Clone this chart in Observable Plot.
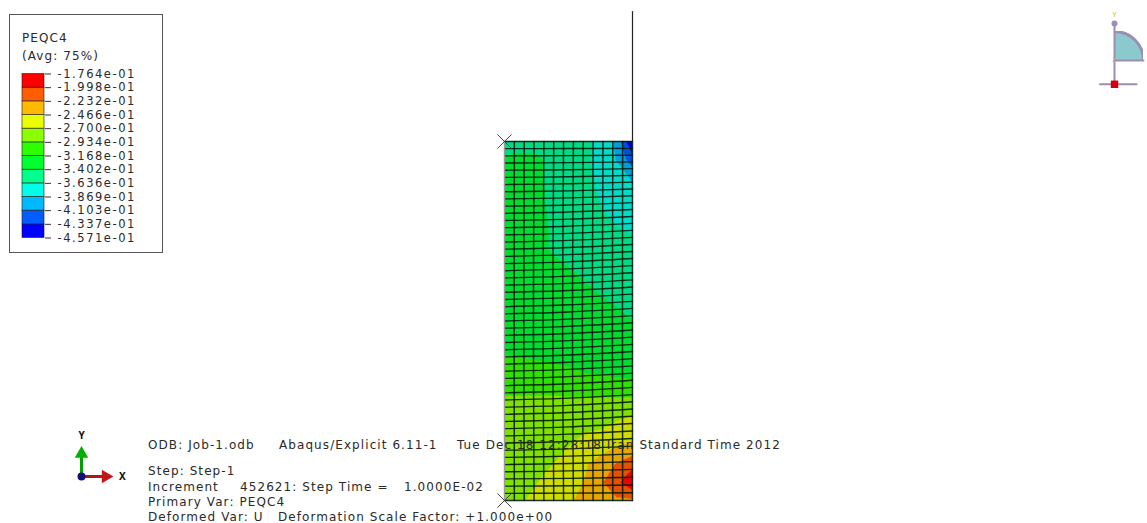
<!DOCTYPE html>
<html>
<head>
<meta charset="utf-8">
<script src="https://cdn.jsdelivr.net/npm/d3@7"></script>
<script src="https://cdn.jsdelivr.net/npm/@observablehq/plot@0.6"></script>
<style>
  html, body { margin: 0; padding: 0; background: #fff; }
  #stage { position: relative; width: 1147px; height: 523px; overflow: hidden;
           font-family: "DejaVu Sans", Verdana, sans-serif; color: #2a2a2a; }
  #stage svg { position: absolute; background: transparent; }
  .t { position: absolute; white-space: pre; font-size: 12px; line-height: 14px; letter-spacing: 1.08px; }
  #legend { position: absolute; left: 9px; top: 14px; width: 152px; height: 237px;
            border: 1px solid #555; box-sizing: content-box; }
</style>
</head>
<body>
<div id="stage"></div>
<script>
// Contour levels (unit 1e-1), low to high, and their printed labels
const levels = [-4.571,-4.337,-4.103,-3.869,-3.636,-3.402,-3.168,-2.934,-2.700,-2.466,-2.232,-1.998,-1.764];
const levelLabels = ["-4.571e-01","-4.337e-01","-4.103e-01","-3.869e-01","-3.636e-01","-3.402e-01","-3.168e-01","-2.934e-01","-2.700e-01","-2.466e-01","-2.232e-01","-1.998e-01","-1.764e-01"];
// Band colours, low to high: legend (full) and mesh (shaded by the viewport light)
const legendColors = ["#0000ff","#005dff","#00b9ff","#00ffe8","#00ff8b","#00ff2e","#2eff00","#8bff00","#e8ff00","#ffb900","#ff5d00","#ff0000"];
const meshColors = ["#0000dc","#0050dc","#009cdc","#00dcc8","#00dc84","#00dc30","#30e000","#80e000","#d0dc00","#e8a400","#e65000","#ee0000"];

// PEQC4, unit 1e-1. 9 columns left to right, 21 rows top to bottom.
const field = [
 [-3.47,-3.46,-3.47,-3.52,-3.56,-3.60,-3.67,-3.92,-4.60],
 [-3.385,-3.37,-3.37,-3.45,-3.52,-3.61,-3.68,-3.88,-4.25],
 [-3.28,-3.30,-3.37,-3.44,-3.50,-3.59,-3.67,-3.76,-3.90],
 [-3.25,-3.28,-3.36,-3.44,-3.50,-3.58,-3.65,-3.71,-3.80],
 [-3.24,-3.27,-3.35,-3.43,-3.49,-3.55,-3.62,-3.67,-3.73],
 [-3.24,-3.27,-3.34,-3.42,-3.48,-3.53,-3.58,-3.62,-3.65],
 [-3.23,-3.27,-3.35,-3.42,-3.47,-3.51,-3.54,-3.56,-3.58],
 [-3.22,-3.25,-3.30,-3.35,-3.40,-3.45,-3.49,-3.52,-3.54],
 [-3.21,-3.23,-3.27,-3.31,-3.35,-3.39,-3.43,-3.46,-3.49],
 [-3.20,-3.22,-3.25,-3.28,-3.31,-3.34,-3.38,-3.41,-3.45],
 [-3.19,-3.21,-3.23,-3.25,-3.28,-3.31,-3.34,-3.37,-3.40],
 [-3.19,-3.20,-3.21,-3.23,-3.25,-3.27,-3.29,-3.31,-3.33],
 [-3.165,-3.17,-3.18,-3.19,-3.20,-3.22,-3.23,-3.25,-3.27],
 [-3.09,-3.10,-3.11,-3.13,-3.14,-3.16,-3.17,-3.19,-3.22],
 [-2.95,-2.95,-2.95,-2.95,-2.96,-2.97,-2.98,-2.99,-3.00],
 [-2.85,-2.85,-2.84,-2.84,-2.83,-2.82,-2.80,-2.77,-2.74],
 [-2.81,-2.80,-2.79,-2.77,-2.75,-2.72,-2.705,-2.65,-2.60],
 [-2.80,-2.78,-2.75,-2.72,-2.70,-2.63,-2.55,-2.47,-2.42],
 [-2.79,-2.76,-2.73,-2.70,-2.60,-2.49,-2.38,-2.21,-2.05],
 [-2.77,-2.74,-2.705,-2.63,-2.54,-2.46,-2.27,-2.06,-1.80],
 [-2.76,-2.72,-2.65,-2.56,-2.49,-2.42,-2.35,-2.27,-2.28]
];

// Mesh: 13 x 50 elements. Deformed node rows at left, middle and right edge (element units from base)
const colTop = [0,1,2,3,4,5,6,7,8,9,10,11,12,13];
const colMid = [0,.98,1.96,2.94,3.92,4.91,5.9,6.9,7.91,8.92,9.94,10.96,11.98,13];
const rowLeft = [50,49,48,47,46,45,44,43,42,41,40,39,38,37,36,35,34,33,32,31,30,29,28,27,26,25,24,23,22,21,20,19,18,17,16,15,14,13,12,11,10,9,8,7,6,5,4,3,2,1,0];
const rowMid = [50,49.02,48.03,47.05,46.07,45.09,44.11,43.13,42.15,41.16,40.18,39.19,38.2,37.21,36.22,35.23,34.24,33.24,32.25,31.25,30.25,29.25,28.26,27.26,26.26,25.26,24.26,23.26,22.26,21.26,20.26,19.26,18.26,17.26,16.26,15.25,14.25,13.25,12.25,11.25,10.25,9.24,8.22,7.2,6.17,5.15,4.12,3.08,2.05,1.03,0];
const rowRight = [50,49.05,48.1,47.16,46.22,45.28,44.34,43.39,42.44,41.49,40.53,39.56,38.59,37.62,36.64,35.66,34.68,33.7,32.71,31.72,30.73,29.74,28.74,27.74,26.75,25.75,24.75,23.75,22.75,21.75,20.75,19.75,18.75,17.75,16.75,15.75,14.75,13.75,12.74,11.73,10.72,9.68,8.63,7.57,6.5,5.42,4.33,3.24,2.16,1.08,0];
const rigidLine = [[13,50],[13,68.1]];
const markers = [[0,50],[0,0]];

// Printed text
const legendTitle = ["PEQC4","(Avg: 75%)"];
const infoRuns = ["ODB: Job-1.odb","Abaqus/Explicit 6.11-1","Tue Dec 18 12:28:18 Iran Standard Time 2012","Step: Step-1","Increment","452621: Step Time =","1.0000E-02","Primary Var: PEQC4","Deformed Var: U","Deformation Scale Factor: +1.000e+00"];

const stage = document.getElementById("stage");
const colorRange = c => [c[0], ...c, c[c.length - 1]];

// ---- contour plot on the mesh ----
const nRows = field.length, nCols = field[0].length;
const dx = 13 / (nCols - 1), dy = 50 / (nRows - 1);
const rowNodes = rowLeft.flatMap((y, i) => [
  {x: 0, y, i}, {x: 6.5, y: rowMid[i], i}, {x: 13, y: rowRight[i], i}
]);
const colNodes = colTop.flatMap((x, j) => [
  {x, y: 50, j}, {x: colMid[j], y: 25, j}, {x, y: 0, j}
]);
const main = Plot.plot({
  width: 1147, height: 523,
  marginLeft: 504, marginRight: 515, marginTop: 141, marginBottom: 23,
  x: {domain: [0, 13], axis: null},
  y: {domain: [0, 50], axis: null},
  color: {type: "threshold", domain: levels, range: colorRange(meshColors)},
  marks: [
    Plot.contour(field.flat(), {
      width: nCols, height: nRows,
      x1: -dx / 2, x2: 13 + dx / 2, y1: 50 + dy / 2, y2: -dy / 2,
      value: d => d, fill: "value", stroke: "none", thresholds: levels, clip: "frame"
    }),
    Plot.line(rowNodes, {x: "x", y: "y", z: "i", stroke: "#021a0c", strokeWidth: 1.35, strokeOpacity: 0.9, curve: "catmull-rom"}),
    Plot.line(colNodes.filter(d => d.j > 0), {x: "x", y: "y", z: "j", stroke: "#021a0c", strokeWidth: 1.45, strokeOpacity: 0.9, curve: "catmull-rom"}),
    Plot.line(colNodes.filter(d => d.j === 0), {x: "x", y: "y", stroke: "#999", strokeWidth: 1.4}),
    Plot.line(rigidLine, {stroke: "#222", strokeWidth: 1.2}),
    Plot.dot(markers, {symbol: "times", r: 6.5, stroke: "#444", strokeWidth: 1})
  ]
});
main.style.left = "0"; main.style.top = "0";
stage.appendChild(main);

// ---- legend ----
const legend = document.createElement("div");
legend.id = "legend";
stage.appendChild(legend);
legendTitle.forEach((s, i) => {
  const d = document.createElement("div");
  d.className = "t"; d.textContent = s;
  d.style.left = "12px"; d.style.top = (i ? 34 : 16) + "px";
  legend.appendChild(d);
});
const bins = d3.pairs(levels).map(([lo, hi]) => ({lo, hi}));
const legendPlot = Plot.plot({
  width: 152, height: 237,
  marginLeft: 12, marginRight: 118, marginTop: 58.5, marginBottom: 14.5,
  x: {axis: null},
  y: {domain: [-4.571, -1.764], axis: null},
  color: {type: "threshold", domain: levels, range: colorRange(legendColors)},
  marks: [
    Plot.rect(bins, {y1: "lo", y2: "hi", fill: "lo", stroke: "#1a1a1a", strokeWidth: 0.8, strokeOpacity: 0.75}),
    Plot.axisY({anchor: "right", ticks: levels, tickSize: 6, tickPadding: 7, stroke: "#333", fill: "#2a2a2a",
      tickFormat: d => levelLabels[levels.indexOf(d)]})
  ]
});
legendPlot.style.left = "0"; legendPlot.style.top = "0";
legendPlot.querySelectorAll("text").forEach(t => {
  t.style.fontSize = "11.5px";
  t.style.letterSpacing = "1.55px";
  t.style.fontFamily = '"DejaVu Sans"';
  t.style.fontVariant = "normal";
});
legend.appendChild(legendPlot);

// ---- coordinate triad ----
const triadX = [[0,0],[0.72,0]], triadY = [[0,0],[0,0.72]];
const triad = Plot.plot({
  width: 90, height: 70,
  marginLeft: 21, marginRight: 38, marginTop: 22, marginBottom: 19,
  x: {domain: [0, 1], axis: null},
  y: {domain: [0, 1], axis: null},
  marks: [
    Plot.line(triadY, {stroke: "#00a000", strokeWidth: 3}),
    Plot.dot([[0,0.78]], {symbol: "triangle", r: 5, fill: "#00b000"}),
    Plot.line(triadX, {stroke: "#b01818", strokeWidth: 3}),
    Plot.dot([[0.78,0]], {symbol: "triangle", r: 5, fill: "#c01818", rotate: 90}),
    Plot.dot([[0,0]], {r: 4, fill: "#10107a"}),
    Plot.text([[0,1.41]], {text: () => "Y", fontWeight: "bold", fontSize: 10, fill: "#111"}),
    Plot.text([[1.32,0]], {text: () => "X", fontWeight: "bold", fontSize: 10, fill: "#111"})
  ]
});
triad.style.left = "60px"; triad.style.top = "425px"; triad.style.overflow = "visible";
stage.appendChild(triad);

// ---- view glyph (top right) ----
const glyph = Plot.plot({
  width: 57, height: 90,
  marginLeft: 24, marginRight: 4, marginTop: 26, marginBottom: 35,
  x: {domain: [0, 1], axis: null},
  y: {domain: [0, 1], axis: null},
  marks: [
    Plot.dot([[0,0]], {r: 29, fill: "#8cc9cd", stroke: "#9c8db4", strokeWidth: 3, clip: "frame"}),
    Plot.line([[0,0],[1,0]], {stroke: "#9c8db4", strokeWidth: 2}),
    Plot.line([[0,-0.82],[0,1.28]], {stroke: "#9c8db4", strokeWidth: 2}),
    Plot.line([[-0.5,-0.82],[0.76,-0.82]], {stroke: "#9c8db4", strokeWidth: 2}),
    Plot.dot([[0,1.28]], {r: 3, fill: "#9c8db4"}),
    Plot.dot([[0,-0.82]], {symbol: "square", r: 4.2, fill: "#d40010"}),
    Plot.text([[0,1.58]], {text: () => "Y", fontSize: 7, fill: "#c8b820"}),
    Plot.text([[0,0.03]], {text: () => "Z", fontSize: 7, fill: "#c8b820"})
  ]
});
glyph.style.left = "1090px"; glyph.style.top = "5px";
stage.appendChild(glyph);

// ---- info block ----
const infoLeft = [148, 279, 457, 148, 148, 240, 404, 148, 148, 278];
const infoTop = [438, 438, 438, 464, 480, 480, 480, 495, 510, 510];
infoRuns.forEach((s, i) => {
  const d = document.createElement("div");
  d.className = "t"; d.textContent = s;
  d.style.left = infoLeft[i] + "px"; d.style.top = infoTop[i] + "px";
  stage.appendChild(d);
});
</script>
</body>
</html>
